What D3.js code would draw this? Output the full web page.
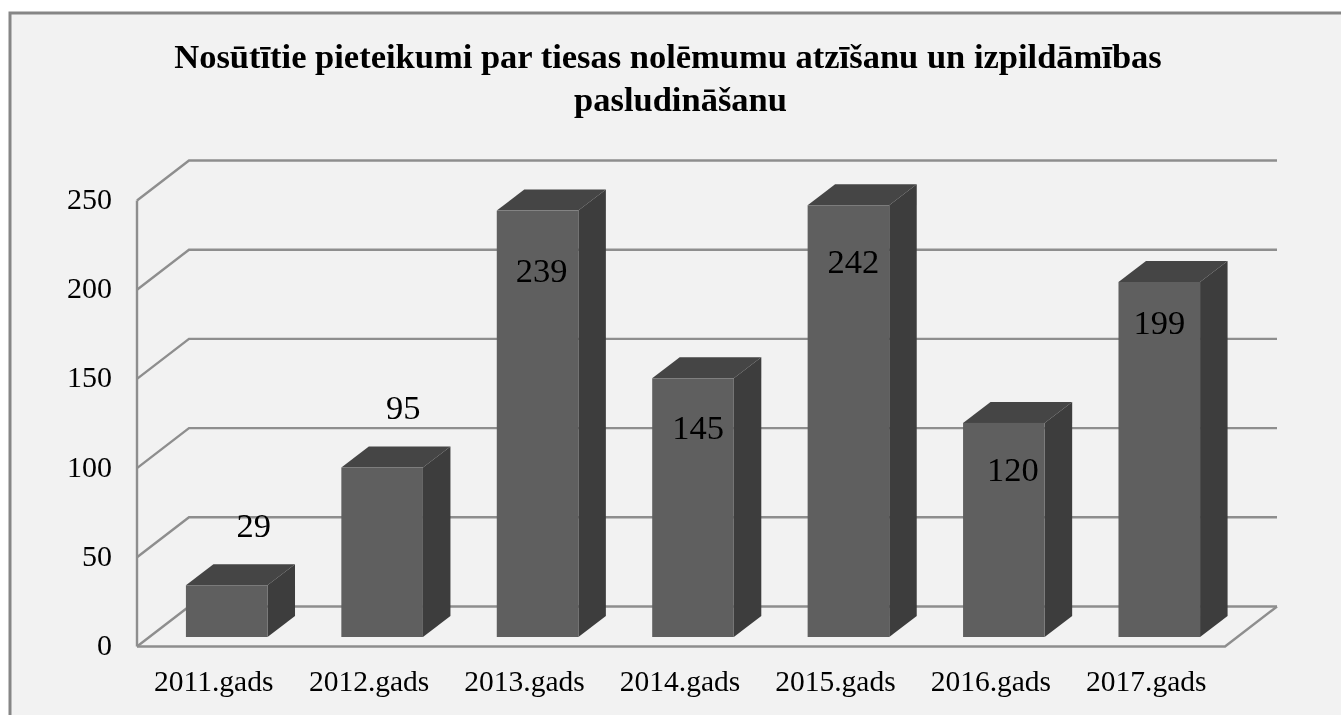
<!DOCTYPE html>
<html><head><meta charset="utf-8">
<script src="https://cdn.jsdelivr.net/npm/d3@7"></script>
<style>html,body{margin:0;padding:0;background:#fff;overflow:hidden}svg{display:block}
text{font-family:"Liberation Serif","Times New Roman",serif;fill:#000}</style></head>
<body><script>
const categories=["2011.gads","2012.gads","2013.gads","2014.gads","2015.gads","2016.gads","2017.gads"];
const values=[29,95,239,145,242,120,199];
const yTicks=[0,50,100,150,200,250];
const titleLines=["Nosūtītie pieteikumi par tiesas nolēmumu atzīšanu un izpildāmības","pasludināšanu"];

// layout
const W=1341,H=715;
const wall={dx:52,dy:-40};
const inset={dx:12,dy:-9.5};
const depth={dx:27.5,dy:-21};
const labelNudge=[[27,-60],[21,-61],[4,59],[5,49],[5,56],[9,46],[0,40]];
const titlePos=[[668,67.5],[680.5,111]];

const x=d3.scaleBand().domain(categories).range([137,1225]).paddingInner(0.475).paddingOuter(0.2375);
const y=d3.scaleLinear().domain([0,250]).range([646.5,200.5]);

const svg=d3.select("body").append("svg").attr("width",W).attr("height",H);
const blur=svg.append("defs").append("filter").attr("id","soft").attr("x",0).attr("y",0).attr("width","100%").attr("height","100%");
blur.append("feGaussianBlur").attr("stdDeviation",0.55);
const root=svg.append("g").attr("filter","url(#soft)");
root.append("rect").attr("width",W).attr("height",H).attr("fill","#fff");
root.append("rect").attr("x",10).attr("y",13).attr("width",W).attr("height",H)
  .attr("fill","#f2f2f2").attr("stroke","#868686").attr("stroke-width",3);

const grid=root.append("g").attr("fill","none").attr("stroke","#8e8e8e").attr("stroke-width",2.4);
grid.selectAll("path.g").data(yTicks).join("path").attr("class","g")
  .attr("d",t=>{const p=d3.path();p.moveTo(137,y(t));p.lineTo(137+wall.dx,y(t)+wall.dy);p.lineTo(x.range()[1]+wall.dx,y(t)+wall.dy);return p;});
const floor=d3.path();
floor.moveTo(x.range()[1]+wall.dx,y(0)+wall.dy);floor.lineTo(x.range()[1],y(0));floor.lineTo(137,y(0));
grid.append("path").attr("d",floor);
grid.append("line").attr("x1",137).attr("x2",137).attr("y1",y(0)).attr("y2",y(250));

const bw=x.bandwidth();
const gBars=root.append("g").selectAll("g").data(values).join("g");
const base=(d,i)=>({l:x(categories[i])+inset.dx,r:x(categories[i])+inset.dx+bw,b:y(0)+inset.dy,t:y(d)+inset.dy});
const poly=pts=>{const p=d3.path();pts.forEach((q,i)=>i?p.lineTo(q[0],q[1]):p.moveTo(q[0],q[1]));p.closePath();return p;};
gBars.append("path").attr("fill","#454545")
  .attr("d",(d,i)=>{const o=base(d,i);return poly([[o.l,o.t],[o.r,o.t],[o.r+depth.dx,o.t+depth.dy],[o.l+depth.dx,o.t+depth.dy]]);});
gBars.append("path").attr("fill","#3c3c3c")
  .attr("d",(d,i)=>{const o=base(d,i);return poly([[o.r,o.t],[o.r+depth.dx,o.t+depth.dy],[o.r+depth.dx,o.b+depth.dy],[o.r,o.b]]);});
gBars.append("rect").attr("fill","#5f5f5f")
  .attr("x",(d,i)=>base(d,i).l).attr("y",(d,i)=>base(d,i).t).attr("width",bw).attr("height",(d,i)=>base(d,i).b-base(d,i).t);

gBars.append("text").attr("text-anchor","middle").attr("dominant-baseline","central").attr("font-size",34.5)
  .attr("x",(d,i)=>base(d,i).l+bw/2+labelNudge[i][0]).attr("y",(d,i)=>base(d,i).t+labelNudge[i][1]).text(d=>d);

root.append("g").selectAll("text").data(yTicks).join("text").attr("text-anchor","end").attr("dominant-baseline","central")
  .attr("font-size",30).attr("x",112).attr("y",t=>y(t)-2).text(t=>t);
root.append("g").selectAll("text").data(categories).join("text").attr("text-anchor","middle").attr("dominant-baseline","central")
  .attr("font-size",29.5).attr("x",c=>x(c)+bw/2-1).attr("y",680.5).text(c=>c);
root.append("g").selectAll("text").data(titleLines).join("text").attr("text-anchor","middle").attr("font-weight","bold")
  .attr("font-size",34.5).attr("x",(d,i)=>titlePos[i][0]).attr("y",(d,i)=>titlePos[i][1]).text(d=>d);
</script></body></html>
